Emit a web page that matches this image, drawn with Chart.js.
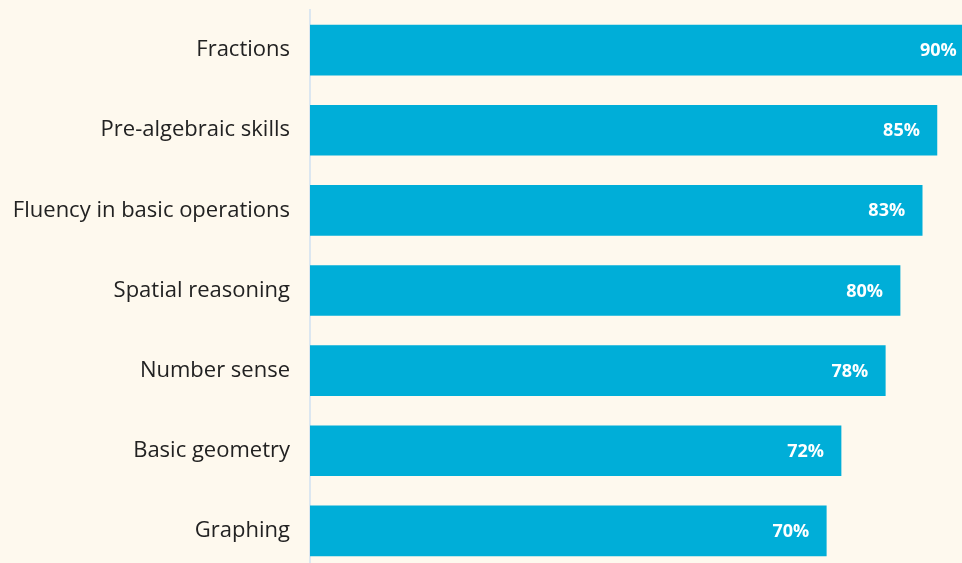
<!DOCTYPE html>
<html>
<head>
<meta charset="utf-8">
<script src="https://cdn.jsdelivr.net/npm/chart.js@4/dist/chart.umd.min.js"></script>
<style>
  html, body { margin: 0; padding: 0; background: #fef9ee; overflow: hidden; }
  canvas { display: block; }
</style>
</head>
<body>
<canvas id="chart" width="962" height="572"></canvas>
<script>
// Skills share chart — horizontal bars with value labels inside bar ends
const categories = ['Fractions', 'Pre-algebraic skills', 'Fluency in basic operations', 'Spatial reasoning', 'Number sense', 'Basic geometry', 'Graphing'];
const values = [90, 85, 83, 80, 78, 72, 70];
const valueLabels = ['90%', '85%', '83%', '80%', '78%', '72%', '70%'];

const BAR_COLOR = '#00aed8';

// draws the white % text just inside the end of each bar
const endLabels = {
  id: 'endLabels',
  afterDatasetsDraw(chart) {
    const ctx = chart.ctx;
    const meta = chart.getDatasetMeta(0);
    ctx.save();
    ctx.fillStyle = '#ffffff';
    ctx.font = 'bold 18px "Open Sans", sans-serif';
    ctx.textAlign = 'right';
    ctx.textBaseline = 'middle';
    meta.data.forEach((bar, i) => {
      ctx.fillText(valueLabels[i], bar.x - 17, bar.y + 1);
    });
    ctx.restore();
  }
};

new Chart(document.getElementById('chart').getContext('2d'), {
  type: 'bar',
  data: {
    labels: categories,
    datasets: [{
      data: values,
      backgroundColor: BAR_COLOR,
      borderWidth: 0,
      barThickness: 50
    }]
  },
  options: {
    indexAxis: 'y',
    responsive: false,
    animation: false,
    layout: { padding: { top: 10, bottom: 1, left: 0, right: 0 } },
    plugins: { legend: { display: false }, tooltip: { enabled: false } },
    scales: {
      x: {
        display: false,
        min: 0,
        max: 88.4
      },
      y: {
        grid: { display: false, drawTicks: false },
        border: { display: true, color: '#dce7f0', width: 2 },
        ticks: {
          padding: 20,
          color: '#222222',
          font: { family: '"Open Sans", sans-serif', size: 22 }
        },
        afterFit(scale) {
          scale.width = 310;
          scale.paddingTop = 0;
          scale.paddingBottom = 0;
        }
      }
    }
  },
  plugins: [endLabels]
});
</script>
</body>
</html>
